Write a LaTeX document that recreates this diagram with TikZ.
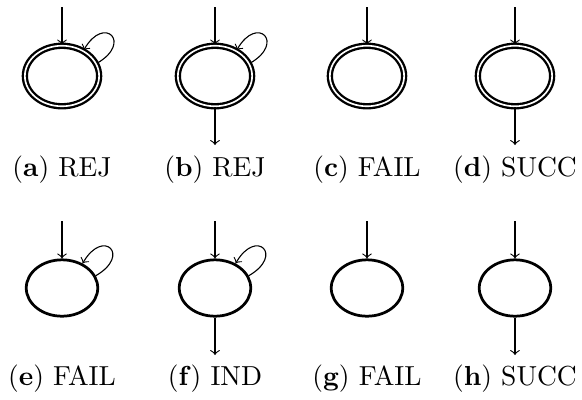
\documentclass[tikz,border=0pt]{standalone}
\usepackage{amsmath}
\usepackage{tikz}
\usetikzlibrary{
	shapes.geometric,
	positioning
}
\tikzset{
	st/.style={ellipse, draw, line width=1pt, minimum width=26pt, minimum height=20.5pt, inner sep=0pt},
	acc/.style={st, double, line width=0.85pt, double distance=0.6pt, minimum width=27pt, minimum height=22pt},
	lbl/.style={anchor=base, inner sep=0pt}
}

\begin{document}
\begin{tikzpicture}[x=0.3636pt, y=-0.3636pt]
			\useasboundingbox (0,0) rectangle (582,399);
			% upper row
			\foreach \n/\x/\t in {a/62/REJ, b/215/REJ, c/367/FAIL, d/515/SUCC} {
				\node[acc] (\n) at (\x,76) {};
				\coordinate (\n-in) at (\x,7);
				\draw[->] (\n-in) -- (\n);
				\node[lbl] (\n-lbl) at (\x,176) {(\textbf{\n}) \t};
			}
			% lower row
			\foreach \n/\x/\t in {e/62/FAIL, f/215/IND, g/367/FAIL, h/515/SUCC} {
				\node[st] (\n) at (\x,288) {};
				\coordinate (\n-in) at (\x,221);
				\draw[->] (\n-in) -- (\n);
				\node[lbl] (\n-lbl) at (\x,385) {(\textbf{\n}) \t};
			}
			\coordinate (b-out) at (215,145);
			\coordinate (d-out) at (515,145);
			\coordinate (f-out) at (215,355);
			\coordinate (h-out) at (515,355);
			\foreach \n in {b,d,f,h}
			\draw[->] (\n) -- (\n-out);
			\foreach \n in {a,b,e,f}
			\draw[->] (\n.20) .. controls +(30:15pt) and +(60:15pt) .. (\n.50);
		\end{tikzpicture}
\end{document}
